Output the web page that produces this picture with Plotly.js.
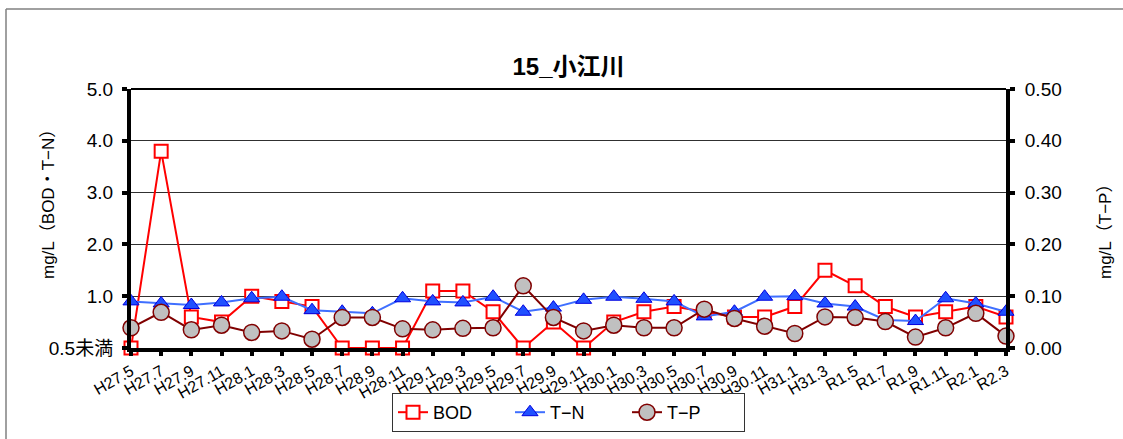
<!DOCTYPE html>
<html>
<head>
<meta charset="utf-8">
<script src="https://cdn.plot.ly/plotly-3.0.1.min.js"></script>
<style>
html,body{margin:0;padding:0;background:#fff;}
#chart{width:1123px;height:439px;}
</style>
</head>
<body>
<div id="chart"></div>
<script>
const categories = ["H27.5","H27.7","H27.9","H27.11","H28.1","H28.3","H28.5","H28.7","H28.9","H28.11",
  "H29.1","H29.3","H29.5","H29.7","H29.9","H29.11","H30.1","H30.3","H30.5","H30.7",
  "H30.9","H30.11","H31.1","H31.3","R1.5","R1.7","R1.9","R1.11","R2.1","R2.3"];
// BOD: 0 = 0.5未満 (below detection)
const bod = [0,3.8,0.6,0.5,1.0,0.9,0.8,0,0,0,
  1.1,1.1,0.7,0,0.5,0,0.5,0.7,0.8,0.7,
  0.6,0.6,0.8,1.5,1.2,0.8,0.6,0.7,0.8,0.6];
const tn = [0.9,0.86,0.83,0.88,0.96,0.99,0.73,0.7,0.67,0.96,
  0.9,0.88,0.99,0.7,0.78,0.93,0.99,0.95,0.9,0.61,
  0.7,0.99,1.0,0.86,0.8,0.54,0.52,0.96,0.86,0.7];
const tp = [0.039,0.069,0.035,0.044,0.030,0.033,0.017,0.059,0.059,0.037,
  0.035,0.038,0.039,0.12,0.059,0.033,0.044,0.039,0.039,0.075,
  0.057,0.042,0.028,0.060,0.059,0.051,0.021,0.039,0.067,0.023];
const leftTickVals = [0,1,2,3,4,5];
const leftTickText = ["0.5未満","1.0","2.0","3.0","4.0","5.0"];
const rightTickVals = [0,0.1,0.2,0.3,0.4,0.5];
const rightTickText = ["0.00","0.10","0.20","0.30","0.40","0.50"];

const FONT = '"Liberation Sans", Arial, "Noto Sans CJK JP", sans-serif';

const traces = [
  {x: categories, y: bod, name: "BOD", type: "scatter", mode: "lines+markers", yaxis: "y",
   line: {color: "#FF0000", width: 2},
   marker: {symbol: "square", size: 13, color: "#FFFFFF", line: {color: "#FF0000", width: 2}},
   cliponaxis: false},
  {x: categories, y: tn, name: "T−N", type: "scatter", mode: "lines+markers", yaxis: "y",
   line: {color: "#3F6FFF", width: 2},
   marker: {symbol: "triangle-up", size: 14, color: "#2050FF", line: {color: "#0000E0", width: 1}},
   cliponaxis: false},
  {x: categories, y: tp, name: "T−P", type: "scatter", mode: "lines+markers", yaxis: "y2",
   line: {color: "#800000", width: 2},
   marker: {symbol: "circle", size: 16, color: "#C0C0C0", line: {color: "#800000", width: 1.5}},
   cliponaxis: false}
];

const layout = {
  width: 1123, height: 439,
  margin: {l: 131, r: 117, t: 89, b: 91, pad: 0},
  paper_bgcolor: "#FFFFFF", plot_bgcolor: "#FFFFFF",
  font: {family: FONT, color: "#000000", size: 16},
  showlegend: true,
  title: {text: "<b>15_小江川</b>", font: {family: FONT, size: 24, color: "#000"},
          x: 0.5, xref: "paper", xanchor: "center", y: 1 - 67/439, yref: "container", yanchor: "middle"},
  xaxis: {type: "category", range: [0, categories.length - 1], automargin: false,
          showline: true, linecolor: "#000", linewidth: 4,
          ticks: "outside", ticklen: 4, tickwidth: 4, tickcolor: "#000",
          tickangle: -30, tickfont: {family: FONT, size: 16, color: "#000"},
          showgrid: false, zeroline: false, fixedrange: true},
  yaxis: {range: [0, 5], tickvals: leftTickVals, ticktext: leftTickText, automargin: false,
          showline: true, linecolor: "#000", linewidth: 4,
          ticks: "outside", ticklen: 5, tickwidth: 4, tickcolor: "#000",
          ticklabelstandoff: 5,
          tickfont: {family: FONT, size: 19, color: "#000"},
          showgrid: true, gridcolor: "#303030", gridwidth: 1, zeroline: false, fixedrange: true},
  yaxis2: {range: [0, 0.5], tickvals: rightTickVals, ticktext: rightTickText, automargin: false,
           overlaying: "y", side: "right",
           showline: true, linecolor: "#000", linewidth: 4,
           ticks: "outside", ticklen: 5, tickwidth: 4, tickcolor: "#000",
           ticklabelstandoff: 6,
           tickfont: {family: FONT, size: 19, color: "#000"},
           showgrid: false, zeroline: false, fixedrange: true},
  legend: {orientation: "h", xref: "paper", x: 0.5, xanchor: "center",
           yref: "container", y: 1 - 393/439, yanchor: "top",
           bordercolor: "#333", borderwidth: 1, bgcolor: "#FFFFFF",
           font: {family: FONT, size: 18, color: "#000"},
           entrywidth: 72, entrywidthmode: "pixels"},
  annotations: [
    {text: "mg/L（BOD・T−N）", xref: "paper", yref: "paper", x: (48 - 131)/875, y: (348 - 200)/259,
     showarrow: false, textangle: -90, font: {family: FONT, size: 17, color: "#000"},
     xanchor: "center", yanchor: "middle"},
    {text: "mg/L（T−P）", xref: "paper", yref: "paper", x: (1105 - 131)/875, y: (348 - 228)/259,
     showarrow: false, textangle: -90, font: {family: FONT, size: 17, color: "#000"},
     xanchor: "center", yanchor: "middle"}
  ],
  shapes: [
    {type: "line", xref: "paper", yref: "paper", x0: 0, x1: 1, y0: 1, y1: 1,
     line: {color: "#000", width: 2}},
    {type: "line", xref: "paper", yref: "paper", x0: (6 - 131)/875, x1: (1123 - 131)/875,
     y0: (348 - 9)/259, y1: (348 - 9)/259, line: {color: "#808080", width: 1.5}},
    {type: "line", xref: "paper", yref: "paper", x0: (6 - 131)/875, x1: (6 - 131)/875,
     y0: (348 - 9)/259, y1: (348 - 439)/259, line: {color: "#808080", width: 1.5}}
  ]
};

Plotly.newPlot("chart", traces, layout, {displayModeBar: false, staticPlot: true});
</script>
</body>
</html>
